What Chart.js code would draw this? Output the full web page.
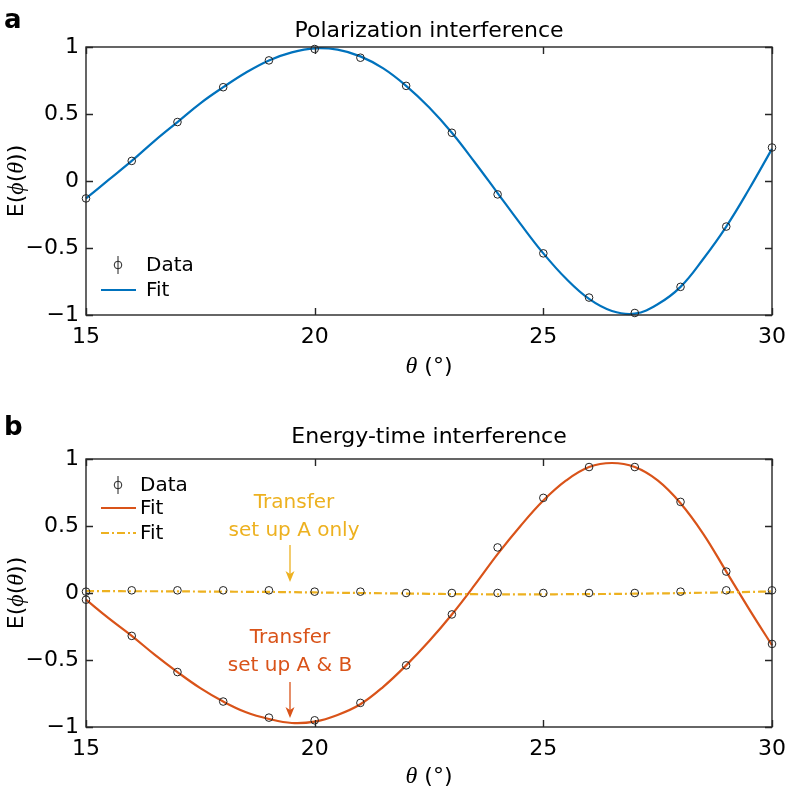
<!DOCTYPE html>
<html>
<head>
<meta charset="utf-8">
<script src="https://cdn.jsdelivr.net/npm/chart.js@4/dist/chart.umd.min.js"></script>
<style>
  html, body { margin: 0; padding: 0; background: #fff; }
  #wrap { position: relative; width: 788px; height: 791px; }
  canvas { position: absolute; left: 0; }
  #chartA { top: 0; }
  #chartB { top: 390px; }
</style>
</head>
<body>
<div id="wrap">
  <canvas id="chartA" width="788" height="390"></canvas>
  <canvas id="chartB" width="788" height="401"></canvas>
</div>
<script>
// measured points, theta in degrees
const thetaData = [15, 16, 17, 18, 19, 20, 21, 22, 23, 24, 25, 26, 27, 28, 29, 30];
const polData = [-0.13, 0.15, 0.44, 0.70, 0.90, 0.985, 0.92, 0.71, 0.36, -0.10, -0.54, -0.87, -0.985, -0.79, -0.34, 0.25];
const energyABData = [-0.05, -0.32, -0.59, -0.81, -0.93, -0.95, -0.82, -0.54, -0.16, 0.34, 0.71, 0.94, 0.94, 0.68, 0.16, -0.38];
const energyAData = [0.01, 0.02, 0.02, 0.02, 0.02, 0.01, 0.01, 0.0, 0.0, 0.0, 0.0, 0.0, 0.0, 0.01, 0.02, 0.02];

// fitted curves
const thetaFit = [15, 15.5, 16, 16.5, 17, 17.5, 18, 18.5, 19, 19.5, 20, 20.5, 21, 21.5, 22, 22.5,
                  23, 23.5, 24, 24.5, 25, 25.5, 26, 26.5, 27, 27.5, 28, 28.5, 29, 29.5, 30];
const polFit = [-0.13, 0.01, 0.15, 0.30, 0.44, 0.58, 0.70, 0.81, 0.90, 0.96, 0.99, 0.98, 0.93, 0.84, 0.71, 0.55,
                0.36, 0.14, -0.09, -0.32, -0.54, -0.73, -0.88, -0.97, -0.99, -0.92, -0.79, -0.58, -0.34, -0.06, 0.24];
const energyABFit = [-0.05, -0.19, -0.32, -0.46, -0.59, -0.71, -0.81, -0.89, -0.94, -0.97, -0.96, -0.91, -0.83, -0.70, -0.54, -0.36,
                     -0.16, 0.06, 0.29, 0.50, 0.69, 0.84, 0.94, 0.97, 0.94, 0.84, 0.67, 0.44, 0.16, -0.12, -0.39];
const energyAFit = [0.015, 0.014, 0.013, 0.013, 0.012, 0.011, 0.010, 0.009, 0.008, 0.006, 0.004, 0.002, 0.0, -0.002, -0.004, -0.006,
                    -0.008, -0.009, -0.010, -0.010, -0.010, -0.009, -0.008, -0.007, -0.005, -0.003, -0.001, 0.002, 0.005, 0.008, 0.012];

const xTicks = [15, 20, 25, 30];
const yTicks = [-1, -0.5, 0, 0.5, 1];

const BLUE = '#0072BD';
const ORANGE = '#D95319';
const YELLOW = '#EDB120';
const FONT = '"DejaVu Sans", "Liberation Sans", Arial, sans-serif';
const MATH = '"Liberation Serif", "DejaVu Serif", serif';

function pts(xs, ys) {
  return xs.map((x, i) => ({ x: x, y: ys[i] }));
}

function dataSet(ys) {
  return {
    type: 'scatter', data: pts(thetaData, ys), order: 0, clip: false,
    pointStyle: 'circle', pointRadius: 3.8, borderColor: '#222', borderWidth: 1,
    backgroundColor: 'rgba(0,0,0,0)', pointHoverRadius: 3.8
  };
}

function fitSet(ys, color, dash, order) {
  return {
    type: 'line', data: pts(thetaFit, ys), order: order, clip: false,
    borderColor: color, borderWidth: 2.2, borderDash: dash || [],
    pointRadius: 0, tension: 0.4, fill: false
  };
}

// draws text made of runs with different fonts, centred on x
function drawRuns(ctx, runs, x, y) {
  let total = 0;
  runs.forEach(r => { ctx.font = r[1]; total += ctx.measureText(r[0]).width; });
  let cx = x - total / 2;
  ctx.textAlign = 'left';
  runs.forEach(r => { ctx.font = r[1]; ctx.fillText(r[0], cx, y); cx += ctx.measureText(r[0]).width; });
}

function arrow(ctx, x, y0, y1, color) {
  ctx.strokeStyle = color; ctx.fillStyle = color; ctx.lineWidth = 1.3;
  ctx.beginPath(); ctx.moveTo(x, y0); ctx.lineTo(x, y1 - 6); ctx.stroke();
  ctx.beginPath();
  ctx.moveTo(x, y1); ctx.lineTo(x - 4.5, y1 - 11); ctx.lineTo(x, y1 - 8); ctx.lineTo(x + 4.5, y1 - 11);
  ctx.closePath(); ctx.fill();
}

const frame = {
  id: 'frame',
  afterDraw(chart, args, o) {
    const { ctx, chartArea: a } = chart;
    const sx = chart.scales.x, sy = chart.scales.y;
    ctx.save();
    ctx.strokeStyle = '#262626'; ctx.lineWidth = 1.4;
    ctx.strokeRect(a.left, a.top, a.right - a.left, a.bottom - a.top);
    ctx.beginPath();
    sx.ticks.forEach(t => {
      const px = Math.round(sx.getPixelForValue(t.value)) + 0.5;
      ctx.moveTo(px, a.bottom); ctx.lineTo(px, a.bottom - 7);
      ctx.moveTo(px, a.top); ctx.lineTo(px, a.top + 7);
    });
    sy.ticks.forEach(t => {
      const py = Math.round(sy.getPixelForValue(t.value)) + 0.5;
      ctx.moveTo(a.left, py); ctx.lineTo(a.left + 7, py);
      ctx.moveTo(a.right, py); ctx.lineTo(a.right - 7, py);
    });
    ctx.stroke();

    ctx.fillStyle = '#000'; ctx.textBaseline = 'alphabetic';
    // panel letter
    ctx.font = 'bold 26px ' + FONT; ctx.textAlign = 'left';
    ctx.fillText(o.letter, 4, o.letterY);
    // title
    ctx.font = '22px ' + FONT; ctx.textAlign = 'center';
    ctx.fillText(o.title, (a.left + a.right) / 2, o.titleY);
    // x title
    drawRuns(ctx, [['θ', 'italic 24px ' + MATH], [' (°)', '22px ' + FONT]], (a.left + a.right) / 2, o.xTitleY);
    // y title
    ctx.save();
    ctx.translate(23, (a.top + a.bottom) / 2);
    ctx.rotate(-Math.PI / 2);
    drawRuns(ctx, [['E(', '22px ' + FONT], ['ϕ', 'italic 24px ' + MATH], ['(', '22px ' + FONT],
                   ['θ', 'italic 24px ' + MATH], ['))', '22px ' + FONT]], 0, 0);
    ctx.restore();

    // legend
    ctx.textBaseline = 'middle'; ctx.textAlign = 'left'; ctx.font = '20px ' + FONT;
    o.legend.forEach(it => {
      if (it.kind === 'data') {
        ctx.strokeStyle = '#222'; ctx.lineWidth = 1; ctx.setLineDash([]);
        ctx.beginPath(); ctx.arc(118, it.y, 3.8, 0, Math.PI * 2); ctx.stroke();
        ctx.beginPath(); ctx.moveTo(118, it.y - 9); ctx.lineTo(118, it.y + 9); ctx.stroke();
      } else {
        ctx.strokeStyle = it.color; ctx.lineWidth = 2.2; ctx.setLineDash(it.dash || []);
        ctx.beginPath(); ctx.moveTo(101, it.y); ctx.lineTo(136, it.y); ctx.stroke();
        ctx.setLineDash([]);
      }
      ctx.fillStyle = '#000';
      ctx.fillText(it.text, o.legendTextX, it.y + 1);
    });

    // annotations
    ctx.textAlign = 'center'; ctx.font = '20px ' + FONT;
    (o.notes || []).forEach(n => {
      ctx.fillStyle = n.color;
      ctx.fillText(n.lines[0], n.x, n.y0);
      ctx.fillText(n.lines[1], n.x, n.y0 + 28);
      arrow(ctx, n.ax, n.a0, n.a1, n.color);
    });
    ctx.restore();
  }
};

function makeChart(id, datasets, deco, padTop, padBottom) {
  return new Chart(document.getElementById(id), {
    data: { datasets: datasets },
    plugins: [frame],
    options: {
      responsive: false,
      animation: false,
      layout: { padding: { top: padTop, right: 16, bottom: padBottom, left: 0 } },
      plugins: { legend: { display: false }, tooltip: { enabled: false }, frame: deco },
      scales: {
        x: {
          type: 'linear', min: 15, max: 30,
          afterBuildTicks: s => { s.ticks = xTicks.map(v => ({ value: v })); },
          afterFit: s => { s.height = 40; s.paddingLeft = 0; s.paddingRight = 0; },
          grid: { display: false, drawTicks: false }, border: { display: false },
          ticks: { color: '#000', padding: 9, font: { family: FONT, size: 22 }, maxRotation: 0 }
        },
        y: {
          type: 'linear', min: -1, max: 1,
          afterBuildTicks: s => { s.ticks = yTicks.map(v => ({ value: v })); },
          afterFit: s => { s.width = 86; s.paddingTop = 0; s.paddingBottom = 0; },
          grid: { display: false, drawTicks: false }, border: { display: false },
          ticks: {
            color: '#000', padding: 7, font: { family: FONT, size: 22 },
            callback: v => v < 0 ? '\u2212' + Math.abs(v) : String(v)
          }
        }
      }
    }
  });
}

makeChart('chartA', [
  dataSet(polData),
  fitSet(polFit, BLUE, null, 1)
], {
  letter: 'a', letterY: 28, title: 'Polarization interference', titleY: 37, xTitleY: 373,
  legendTextX: 146,
  legend: [
    { kind: 'data', y: 265, text: 'Data' },
    { kind: 'line', y: 290, color: BLUE, text: 'Fit' }
  ]
}, 47, 35);

makeChart('chartB', [
  dataSet(energyABData),
  dataSet(energyAData),
  fitSet(energyAFit, YELLOW, [8, 3, 2, 3], 1),
  fitSet(energyABFit, ORANGE, null, 2)
], {
  letter: 'b', letterY: 45, title: 'Energy-time interference', titleY: 53, xTitleY: 393,
  legendTextX: 140,
  legend: [
    { kind: 'data', y: 95, text: 'Data' },
    { kind: 'line', y: 118, color: ORANGE, text: 'Fit' },
    { kind: 'line', y: 143, color: YELLOW, dash: [8, 3, 2, 3], text: 'Fit' }
  ],
  notes: [
    { lines: ['Transfer', 'set up A only'], color: YELLOW, x: 294, y0: 113, ax: 290, a0: 155, a1: 192 },
    { lines: ['Transfer', 'set up A & B'], color: ORANGE, x: 290, y0: 248, ax: 290, a0: 292, a1: 328 }
  ]
}, 69, 24);
</script>
</body>
</html>
